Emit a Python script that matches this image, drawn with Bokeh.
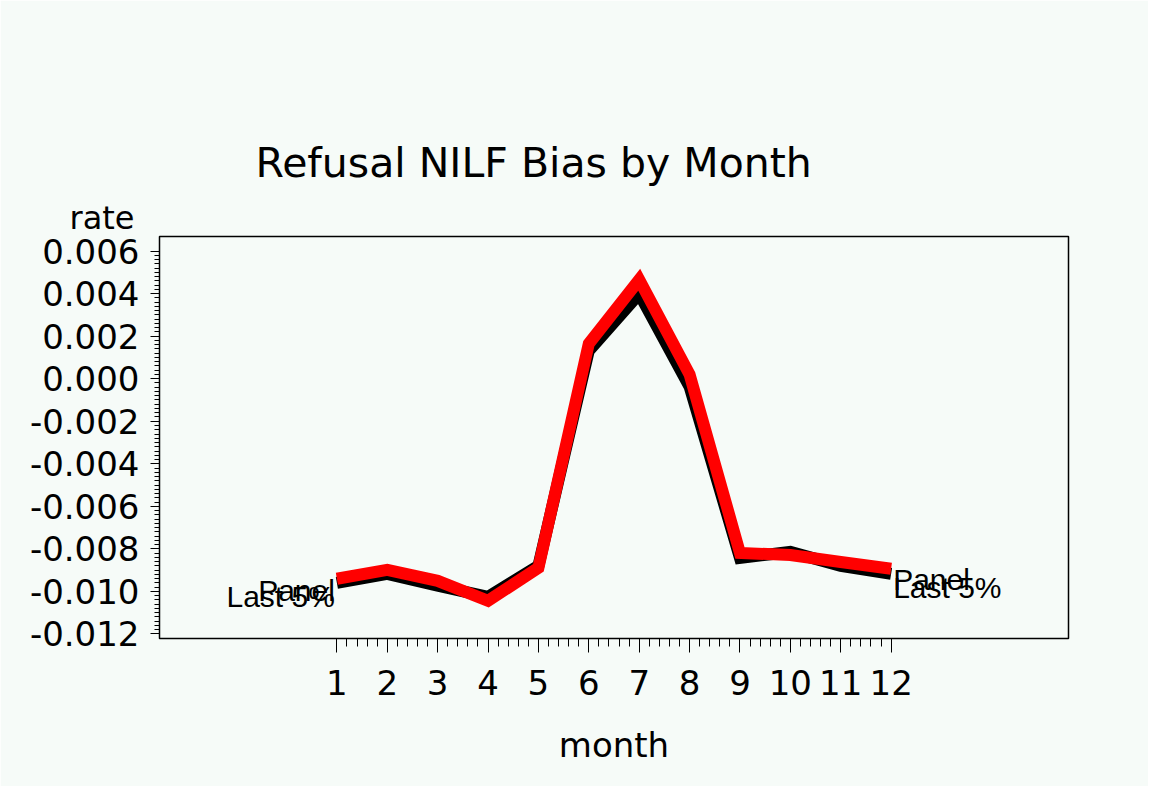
from bokeh.plotting import figure
from bokeh.models import Range1d, FixedTicker, Title, ColumnDataSource
from bokeh.core.properties import value
from bokeh.embed import file_html
from bokeh.resources import INLINE

# ---------------- data ----------------
months = [1, 2, 3, 4, 5, 6, 7, 8, 9, 10, 11, 12]
panel = [-0.00941, -0.00899, -0.00951, -0.01045, -0.00889, 0.00165,
         0.00466, 0.00020, -0.00820, -0.00829, -0.00862, -0.00894]
last5 = [-0.00960, -0.00918, -0.00974, -0.01026, -0.00880, 0.00132,
         0.00400, -0.00037, -0.00843, -0.00815, -0.00880, -0.00918]
series_names = ["Panel", "Last 5%"]
y_ticks = [0.006, 0.004, 0.002, 0.0, -0.002, -0.004, -0.006, -0.008, -0.010, -0.012]
y_tick_labels = ["0.006", "0.004", "0.002", "0.000", "-0.002", "-0.004",
                 "-0.006", "-0.008", "-0.010", "-0.012"]
x_tick_labels = ["1", "2", "3", "4", "5", "6", "7", "8", "9", "10", "11", "12"]
title_text = "Refusal NILF Bias by Month"
x_title = "month"
y_title = "rate"

# ---------------- layout ----------------
BG = "#f6fbf8"
LEFT, TOP, FW, FH = 159, 236, 909, 402
X0, X1 = -2.52, 15.52
Y0, Y1 = -0.012221, 0.006692

p = figure(frame_width=FW, frame_height=FH,
           min_border_left=LEFT, min_border_top=TOP,
           min_border_right=80, min_border_bottom=148,
           x_range=Range1d(X0, X1), y_range=Range1d(Y0, Y1),
           output_backend="svg", toolbar_location=None,
           background_fill_color=BG, border_fill_color=BG)
p.grid.visible = False
p.outline_line_color = "black"
p.outline_line_width = 1.5

AX_FONT = "DejaVu Sans"

# x axis
minor_x = [m + k * 0.2 for m in months[:-1] for k in range(1, 5)]
p.xaxis.ticker = FixedTicker(ticks=months, minor_ticks=minor_x)
p.xaxis.major_label_overrides = {m: lab for m, lab in zip(months, x_tick_labels)}
p.xaxis.major_tick_in = 0
p.xaxis.major_tick_out = 14
p.xaxis.minor_tick_in = 0
p.xaxis.minor_tick_out = 8
p.xaxis.major_label_standoff = 17
p.xaxis.major_label_text_font = AX_FONT
p.xaxis.major_label_text_font_size = "34px"
p.xaxis.major_label_text_color = "black"
p.xaxis.axis_label = x_title
p.xaxis.axis_label_text_font = AX_FONT
p.xaxis.axis_label_text_font_size = "34px"
p.xaxis.axis_label_text_font_style = "normal"
p.xaxis.axis_label_text_color = "black"
p.xaxis.axis_label_standoff = 27

# y axis
minor_y = [round(-0.012 + 0.0002 * i, 4) for i in range(0, 91) if i % 10 != 0]
p.yaxis.ticker = FixedTicker(ticks=y_ticks, minor_ticks=minor_y)
p.yaxis.major_label_overrides = {t: lab for t, lab in zip(y_ticks, y_tick_labels)}
p.yaxis.major_tick_in = 0
p.yaxis.major_tick_out = 9
p.yaxis.minor_tick_in = 0
p.yaxis.minor_tick_out = 5
p.yaxis.major_label_standoff = 11
p.yaxis.major_label_text_font = AX_FONT
p.yaxis.major_label_text_font_size = "34px"
p.yaxis.major_label_text_color = "black"

for ax in (p.xaxis, p.yaxis):
    ax.axis_line_color = "black"
    ax.major_tick_line_color = "black"
    ax.minor_tick_line_color = "black"

# lines
p.line(months, last5, line_color="black", line_width=12, line_join="miter")
p.line(months, panel, line_color="#ff0000", line_width=12, line_join="miter")

# end labels
src = ColumnDataSource(dict(
    x=[months[0], months[0], months[-1], months[-1]],
    y=[panel[0], last5[0], panel[-1], last5[-1]],
    t=[series_names[0], series_names[1], series_names[0], series_names[1]],
    align=["right", "right", "left", "left"],
    xo=[-2, -2, 2, 2],
    yo=[12, 14, 11, 14],
))
p.text(x="x", y="y", text="t", source=src, text_align="align",
       text_baseline="alphabetic", x_offset="xo", y_offset="yo",
       text_font=value("Liberation Sans"), text_font_size="30px",
       text_color="black")

# y-axis title (closest to frame) and main title
rate_title = Title(text=y_title, align="left", offset=-90, standoff=0,
                   text_font=AX_FONT, text_font_size="32px",
                   text_font_style="normal", text_color="black")
main_title = Title(text=title_text, align="left", offset=96, standoff=20,
                   text_font=AX_FONT, text_font_size="41px",
                   text_font_style="normal", text_color="black")
p.add_layout(rate_title, "above")
p.add_layout(main_title, "above")

open("out.html", "w").write(file_html(p, INLINE))
